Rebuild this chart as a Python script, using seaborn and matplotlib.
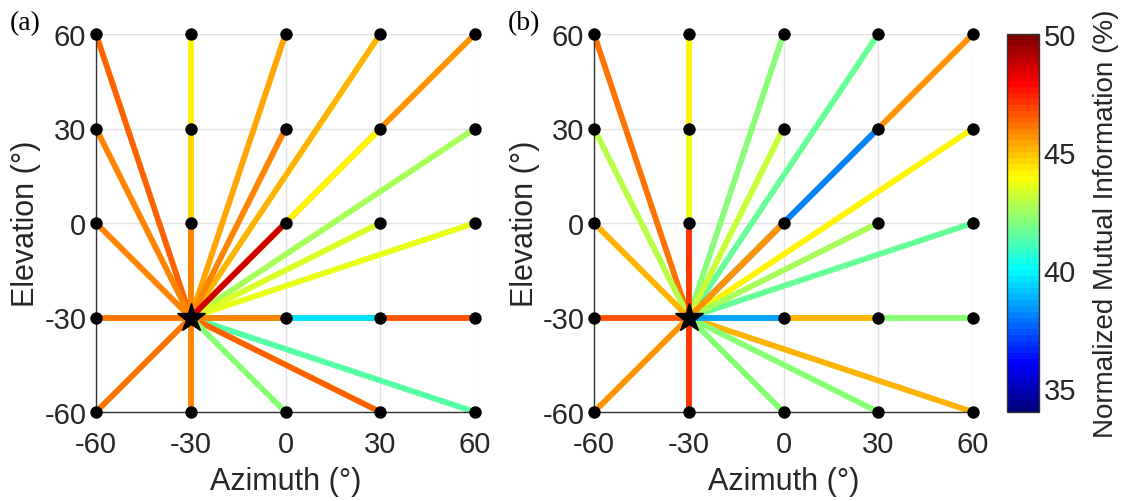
import numpy as np
import pandas as pd
import matplotlib
matplotlib.use("Agg")
import matplotlib.pyplot as plt
import seaborn as sns

# ---- data ----
azimuths = [-60, -30, 0, 30, 60]
elevations = [60, 30, 0, -30, -60]
source_az, source_el = -30, -30

# NMI (%) per target, rows = elevation (60 .. -60), cols = azimuth (-60 .. 60); source cell = nan
nmi_a = [
    [46.4, 44.1, 45.4, 45.0, 45.5],
    [45.9, 44.6, 45.9, 44.0, 42.5],
    [45.9, 45.9, 48.5, 43.4, 43.5],
    [46.0, np.nan, 45.9, 39.5, 46.5],
    [46.0, 45.9, 42.0, 46.4, 41.4],
]
nmi_b = [
    [46.0, 44.0, 42.0, 41.5, 45.5],
    [42.9, 43.5, 43.0, 38.0, 44.0],
    [45.2, 47.0, 45.5, 42.5, 41.5],
    [46.5, np.nan, 38.7, 45.0, 42.0],
    [45.5, 47.0, 42.2, 42.0, 45.0],
]
panel_labels = ["(a)", "(b)"]
vmin, vmax = 34, 50
cbar_ticks = [35, 40, 45, 50]
tick_vals = [-60, -30, 0, 30, 60]

sns.set_style("white")
plt.rcParams["font.family"] = ["Liberation Sans", "DejaVu Sans"]
plt.rcParams["axes.unicode_minus"] = False

# MATLAB-style jet colormap with 64 levels
_f = np.linspace(0, 1, 64)
_jet = np.stack([np.clip(1.5 - np.abs(4 * _f - 3), 0, 1),
                 np.clip(1.5 - np.abs(4 * _f - 2), 0, 1),
                 np.clip(1.5 - np.abs(4 * _f - 1), 0, 1)], axis=1)
cmap = matplotlib.colors.ListedColormap(_jet, name="matlab_jet")
norm = matplotlib.colors.Normalize(vmin=vmin, vmax=vmax)
text_color = "#262626"

fig = plt.figure(figsize=(11.23, 5.02), dpi=100)
bottom, top = 1 - 413 / 502, 1 - 35 / 502
axes_pos = [(96 / 1123, 475 / 1123), (594 / 1123, 973 / 1123)]


def build_frame(grid):
    rows = []
    for i, el in enumerate(elevations):
        for j, az in enumerate(azimuths):
            v = grid[i][j]
            if np.isnan(v):
                continue
            rows.append({"az": az, "el": el, "nmi": v,
                         "dist": np.hypot(az - source_az, el - source_el)})
    return pd.DataFrame(rows)


for k, grid in enumerate([nmi_a, nmi_b]):
    l, r = axes_pos[k]
    ax = fig.add_axes([l, bottom, r - l, top - bottom])
    df = build_frame(grid)
    # farther segments first so nearer ones overlay
    df = df.sort_values("dist", ascending=False).reset_index(drop=True)
    for idx, row in df.iterrows():
        seg = pd.DataFrame({"x": [source_az, row["az"]], "y": [source_el, row["el"]]})
        sns.lineplot(data=seg, x="x", y="y", estimator=None, sort=False,
                     color=cmap(norm(row["nmi"])), linewidth=4.2, ax=ax,
                     solid_capstyle="butt", zorder=2 + idx * 0.01, legend=False)
    sns.scatterplot(data=df, x="az", y="el", color="black", s=80, edgecolor="black",
                    linewidth=0, ax=ax, zorder=5, clip_on=False, legend=False)
    ax.plot([source_az], [source_el], marker="*", color="black", markersize=21,
            markeredgecolor="black", zorder=6, clip_on=False, linestyle="none")

    ax.set_xlim(-60, 60)
    ax.set_ylim(-60, 60)
    ax.set_xticks(tick_vals)
    ax.set_yticks(tick_vals)
    ax.grid(True, color="#e3e3e3", linewidth=1.0, zorder=0)
    ax.set_axisbelow(True)
    for side in ["top", "right"]:
        ax.spines[side].set_visible(False)
    for side in ["left", "bottom"]:
        ax.spines[side].set_color("#333333")
        ax.spines[side].set_linewidth(1.0)
    ax.tick_params(axis="y", labelsize=21, colors=text_color, direction="in",
                   length=0, pad=7)
    ax.tick_params(axis="x", labelsize=21, colors=text_color, direction="in",
                   length=0, pad=13)
    ax.set_xlabel("Azimuth (°)", fontsize=22, color=text_color, labelpad=6)
    ax.set_ylabel("Elevation (°)", fontsize=22, color=text_color, labelpad=2)
    ax.text(-0.228, 1.03, panel_labels[k], transform=ax.transAxes, fontsize=20,
            family="Liberation Serif", ha="left", va="center", color="black")

# colorbar
cax = fig.add_axes([1007 / 1123, bottom, 32 / 1123, top - bottom])
sm = matplotlib.cm.ScalarMappable(norm=norm, cmap=cmap)
cb = fig.colorbar(sm, cax=cax, ticks=cbar_ticks)
cb.outline.set_edgecolor("#333333")
cb.outline.set_linewidth(1.0)
cax.tick_params(labelsize=21, colors=text_color, direction="in", length=5, width=0.8)
cb.set_label("Normalized Mutual Information (%)", fontsize=20, color=text_color, labelpad=12)

fig.savefig("out.png", dpi=100)
